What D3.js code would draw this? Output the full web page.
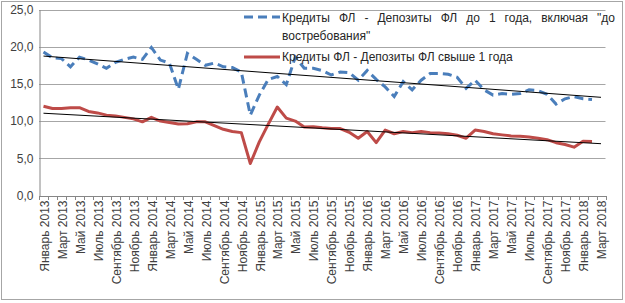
<!DOCTYPE html>
<html><head><meta charset="utf-8">
<script src="https://cdn.jsdelivr.net/npm/d3@7"></script>
<style>body{margin:0;background:#fff}svg{display:block}text{font-family:"Liberation Sans",Arial,sans-serif;}</style>
</head><body><svg id="c" width="625" height="303"></svg>
<script>
const monthNames = ["Январь","Февраль","Март","Апрель","Май","Июнь","Июль","Август","Сентябрь","Октябрь","Ноябрь","Декабрь"];
const years = [2013,2014,2015,2016,2017,2018];
const categories = [];
years.forEach(y => monthNames.forEach((m,k) => { if (y < 2018 || k < 3) categories.push(m + " " + y); }));

const seriesShort = [19.3,18.5,18.4,17.3,18.6,18.2,17.7,17.1,17.9,18.3,18.6,18.3,
  19.9,18.2,17.8,14.3,19.1,18.3,17.5,17.8,17.3,17.2,16.6,10.8,
  13.5,15.6,16.0,14.9,18.6,17.1,17.1,16.8,16.2,16.6,16.5,15.5,
  16.8,15.6,14.6,13.3,15.3,14.2,15.5,16.4,16.4,16.3,15.9,14.4,
  15.5,14.2,13.5,13.7,13.6,13.7,14.2,14.1,13.6,12.3,13.0,13.3,
  13.0,12.9,null];
const seriesLong = [12.0,11.7,11.7,11.8,11.8,11.3,11.1,10.8,10.7,10.5,10.3,9.9,
  10.5,10.0,9.8,9.6,9.65,9.9,9.9,9.4,8.9,8.6,8.45,4.3,
  7.2,9.6,11.9,10.4,10.0,9.2,9.25,9.1,9.0,9.0,8.5,7.7,
  8.6,7.1,8.8,8.3,8.6,8.45,8.6,8.45,8.4,8.3,8.1,7.7,
  8.8,8.6,8.3,8.15,8.0,7.95,7.85,7.7,7.5,7.1,6.85,6.5,
  7.3,7.25,null];
const yTicks = [0,5,10,15,20,25];
const legendShort = "Кредиты ФЛ - Депозиты ФЛ до 1 года, включая \"до востребования\"";
const legendLong = "Кредиты ФЛ - Депозиты ФЛ свыше 1 года";

const svg = d3.select("#c");
svg.append("rect").attr("x",1.5).attr("y",1.5).attr("width",621).attr("height",298)
  .attr("fill","#fff").attr("stroke","#a6a6a6").attr("stroke-width",1);

const pLeft = 39, pRight = 605.5, pTop = 9.5, pBottom = 195.5;
const x = d3.scaleBand().domain(categories).range([pLeft, pRight]);
const y = d3.scaleLinear().domain([0,25]).range([pBottom, pTop]);
const cx = c => x(c) + x.bandwidth()/2;

// gridlines
svg.append("g").selectAll("line").data(yTicks.filter(v=>v>0)).join("line")
  .attr("x1",pLeft).attr("x2",pRight).attr("y1",d=>Math.round(y(d))+0.5).attr("y2",d=>Math.round(y(d))+0.5)
  .attr("stroke","#a6a6a6").attr("stroke-width",1);

// y axis
const ya = svg.append("g").attr("transform",`translate(${pLeft+0.5},0)`)
  .call(d3.axisLeft(y).tickValues(yTicks).tickSize(0).tickPadding(6).tickFormat(d=>d3.format(".1f")(d).replace(".",",")));
ya.select(".domain").attr("stroke","#868686");
ya.selectAll("text").attr("font-size","12px").attr("fill","#404040").attr("font-family","Liberation Sans, Arial, sans-serif");

// x axis
const xa = svg.append("g").attr("transform",`translate(0,${pBottom+0.5})`)
  .call(d3.axisBottom(x).tickSize(0).tickFormat(""));
xa.select(".domain").attr("stroke","#868686");
xa.selectAll(".tick").remove();
const bounds = categories.map(c => x(c)).concat([x(categories[categories.length-1]) + x.bandwidth()]);
xa.selectAll("line.tk").data(bounds).join("line").attr("class","tk")
  .attr("x1",d=>Math.round(d)+0.5).attr("x2",d=>Math.round(d)+0.5).attr("y1",0).attr("y2",4)
  .attr("stroke","#868686");
svg.append("g").selectAll("text").data(categories.filter((c,i)=>i%2===0)).join("text")
  .attr("transform",d=>`translate(${cx(d)+1},${pBottom+5}) rotate(-90)`)
  .attr("text-anchor","end").attr("dy","0.35em").attr("font-size","12px").attr("fill","#404040")
  .text(d=>d);

// lines
const line = d3.line().defined(d=>d[1]!==null).x(d=>cx(d[0])).y(d=>y(d[1]));
svg.append("path").datum(categories.map((c,i)=>[c,seriesShort[i]]))
  .attr("d",line).attr("fill","none").attr("stroke","#4a7ebb").attr("stroke-width",3)
  .attr("stroke-dasharray","9,5");
svg.append("path").datum(categories.map((c,i)=>[c,seriesLong[i]]))
  .attr("d",line).attr("fill","none").attr("stroke","#be4b48").attr("stroke-width",3)
  .attr("stroke-linejoin","round");

// linear trendlines (least squares)
function trend(vals){
  const pts = vals.map((v,i)=>[i,v]).filter(p=>p[1]!==null);
  const mx=d3.mean(pts,p=>p[0]), my=d3.mean(pts,p=>p[1]);
  const b=d3.sum(pts,p=>(p[0]-mx)*(p[1]-my))/d3.sum(pts,p=>(p[0]-mx)**2);
  const a=my-b*mx;
  return [[0,a],[categories.length-1,a+b*(categories.length-1)]];
}
[seriesShort, seriesLong].forEach(s=>{
  const t = trend(s);
  svg.append("line").attr("x1",cx(categories[t[0][0]])).attr("y1",y(t[0][1]))
    .attr("x2",cx(categories[t[1][0]])).attr("y2",y(t[1][1]))
    .attr("stroke","#000").attr("stroke-width",1);
});

// legend
const lg = svg.append("g");
lg.append("line").attr("x1",244).attr("x2",280).attr("y1",17).attr("y2",17)
  .attr("stroke","#4a7ebb").attr("stroke-width",3).attr("stroke-dasharray","9,5");
lg.append("line").attr("x1",244).attr("x2",280).attr("y1",57).attr("y2",57)
  .attr("stroke","#be4b48").attr("stroke-width",3);
const words = legendShort.split(" ");
const line1 = words.slice(0, words.length-1), line2 = words.slice(words.length-1);
const tx0 = 282, tx1 = 615;
const tmp = line1.map(w => lg.append("text").attr("y",21.5).attr("font-size","12px").attr("fill","#262626").text(w));
const widths = tmp.map(t => t.node().getComputedTextLength());
const gap = (tx1 - tx0 - d3.sum(widths)) / (line1.length - 1);
let px = tx0;
tmp.forEach((t,i) => { t.attr("x", px); px += widths[i] + gap; });
lg.append("text").attr("x",tx0).attr("y",39.5).attr("font-size","12px").attr("fill","#262626").text(line2.join(" "));
lg.append("text").attr("x",tx0).attr("y",61).attr("font-size","12px").attr("fill","#262626").text(legendLong);
</script></body></html>
